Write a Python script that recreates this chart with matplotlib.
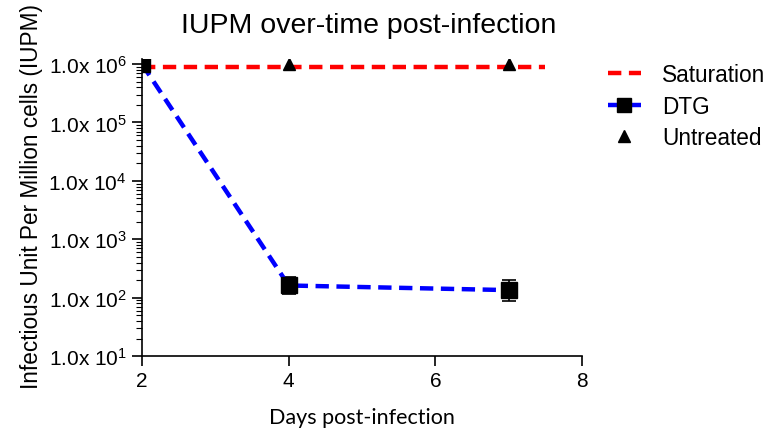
import matplotlib
matplotlib.use("Agg")
import matplotlib.pyplot as plt
from matplotlib.ticker import FixedLocator, FixedFormatter, LogLocator, NullFormatter
from matplotlib.lines import Line2D

plt.rcParams['font.family'] = ['Liberation Sans', 'DejaVu Sans']
plt.rcParams['mathtext.fontset'] = 'custom'
plt.rcParams['mathtext.rm'] = 'Liberation Sans'
plt.rcParams['mathtext.it'] = 'Liberation Sans:italic'

# Data
sat_days = [2, 7.5]
sat_vals = [8.8e5, 8.8e5]
dtg_days = [2, 4, 7]
dtg_vals = [1.0e6, 162, 135]
dtg_err_low = [0, 162 - 115, 135 - 89]
dtg_err_high = [0, 230 - 162, 205 - 135]
untr_days = [2, 4, 7]
untr_vals = [1.0e6, 1.0e6, 1.0e6]
ytick_vals = [1e1, 1e2, 1e3, 1e4, 1e5, 1e6]
ytick_labels = [r"1.0x 10$^{1}$", r"1.0x 10$^{2}$", r"1.0x 10$^{3}$",
                r"1.0x 10$^{4}$", r"1.0x 10$^{5}$", r"1.0x 10$^{6}$"]
xtick_vals = [2, 4, 6, 8]

fig = plt.figure(figsize=(7.73, 4.35), dpi=100)
ax = fig.add_axes([0.1837, 0.179, 0.5693, 0.682])

dash = (0, (3, 1.7))
ax.plot(untr_days, untr_vals, linestyle='none', marker='^', color='black',
        markersize=9, label='Untreated', zorder=3)
ax.plot(sat_days, sat_vals, linestyle=dash, color='#ff0000', lw=3.2,
        label='Saturation', zorder=2)
ax.errorbar(dtg_days, dtg_vals, yerr=[dtg_err_low, dtg_err_high], color='#0000ff',
            linestyle=dash, lw=3.2, marker='s', markersize=11.5,
            markerfacecolor='black', markeredgecolor='black', ecolor='black',
            elinewidth=1.2, capsize=5, capthick=1.2, label='DTG', zorder=4)

ax.set_yscale('log')
ax.set_ylim(10, 1.2e6)
ax.set_xlim(2, 8)
ax.yaxis.set_major_locator(FixedLocator(ytick_vals))
ax.yaxis.set_major_formatter(FixedFormatter(ytick_labels))
ax.yaxis.set_minor_locator(LogLocator(base=10, subs=range(2, 10), numticks=20))
ax.yaxis.set_minor_formatter(NullFormatter())
ax.set_xticks(xtick_vals)
ax.set_xticklabels([str(v) for v in xtick_vals])

for s in ['top', 'right']:
    ax.spines[s].set_visible(False)
for s in ['left', 'bottom']:
    ax.spines[s].set_linewidth(1.2)
ax.tick_params(axis='both', which='major', direction='out', length=7, width=1.2,
               labelsize=15, pad=4)
ax.tick_params(axis='y', which='minor', direction='out', length=4, width=0.8)

ax.set_title("IUPM over-time post-infection", fontsize=20.5, pad=20, x=0.515)
ax.set_ylabel("Infectious Unit Per Million cells (IUPM)", fontsize=16.3, labelpad=4)
ax.yaxis.label.set_y(0.54)
ax.set_xlabel("Days post-infection", fontsize=15.5, family=['Lato', 'DejaVu Sans'],
              labelpad=12)

handles = [
    Line2D([], [], color='#ff0000', linestyle=dash, lw=3.2),
    Line2D([], [], color='#0000ff', linestyle=dash, lw=3.2, marker='s',
           markersize=10, markerfacecolor='black', markeredgecolor='black'),
    Line2D([], [], color='black', linestyle='none', marker='^', markersize=9),
]
fig.legend(handles, ['Saturation', 'DTG', 'Untreated'], loc='upper left',
           bbox_to_anchor=(0.7866, 0.853), frameon=False, fontsize=16.3,
           borderpad=0, borderaxespad=0,
           handlelength=1.45, handletextpad=0.95, labelspacing=0.38)

fig.savefig("out.png", dpi=100)
